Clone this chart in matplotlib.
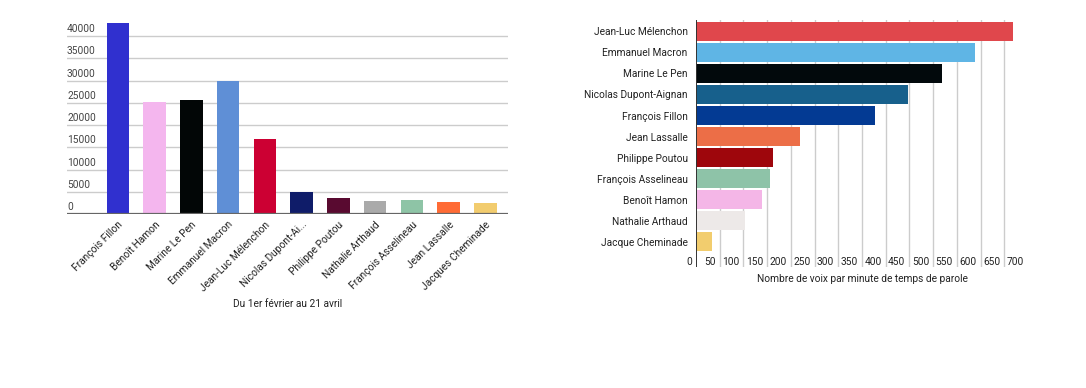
import matplotlib
matplotlib.use("Agg")
import matplotlib.pyplot as plt
import matplotlib.transforms as mtrans

plt.rcParams['font.family'] = ['Roboto', 'DejaVu Sans']

# ---------------- data ----------------
left_names = ["François Fillon", "Benoît Hamon", "Marine Le Pen", "Emmanuel Macron",
              "Jean-Luc Mélenchon", "Nicolas Dupont-Ai...", "Philippe Poutou",
              "Nathalie Arthaud", "François Asselineau", "Jean Lassalle",
              "Jacques Cheminade"]
left_values = [43000, 25200, 25600, 29900, 16850, 4880, 3530, 2990, 3080, 2700, 2540]
left_colors = ["#3030cf", "#f4b6ee", "#020606", "#5f8fd6", "#cc0033", "#0f1c69",
               "#590a30", "#aaaaaa", "#8ec4a6", "#ff6b35", "#f2cc6e"]
left_yticks = [0, 5000, 10000, 15000, 20000, 25000, 30000, 35000, 40000]
left_title = "Du 1er février au 21 avril"

right_names = ["Jean-Luc Mélenchon", "Emmanuel Macron", "Marine Le Pen",
               "Nicolas Dupont-Aignan", "François Fillon", "Jean Lassalle",
               "Philippe Poutou", "François Asselineau", "Benoît Hamon",
               "Nathalie Arthaud", "Jacque Cheminade"]
right_values = [669, 589, 518, 448, 378, 219, 163, 155, 140, 103, 34]
right_colors = ["#e0474c", "#5fb5e5", "#02090c", "#17608c", "#033a93", "#ec6e47",
                "#9e060c", "#8ec3a8", "#f4b6e7", "#ede9e8", "#f2cd6e"]
right_xticks = list(range(0, 701, 50))
right_title = "Nombre de voix par minute de temps de parole"

W, H = 1086, 388
fig = plt.figure(figsize=(W / 100, H / 100), dpi=100)


def px_axes(l, t, r, b):
    return fig.add_axes([l / W, 1 - b / H, (r - l) / W, (b - t) / H])


FS = 7.3
GRID = "#cccccc"

# ---------------- left chart ----------------
axL = px_axes(67, 20, 508, 214)
xs = list(range(len(left_names)))
axL.bar(xs, left_values, width=0.61, color=left_colors, zorder=3)
axL.set_xlim(-1.385, 10.618)
axL.set_ylim(0, 43600)
for v in left_yticks[1:]:
    axL.axhline(v, color=GRID, lw=1.0, zorder=1)
axL.axhline(0, color="#666666", lw=1.6, zorder=4)
for s in axL.spines.values():
    s.set_visible(False)
axL.set_yticks([])
tr = mtrans.blended_transform_factory(axL.transAxes, axL.transData)
off = mtrans.ScaledTranslation(0, 2.0 / 100, fig.dpi_scale_trans)
for v in left_yticks:
    axL.text(0, v, str(v), transform=tr + off, ha="left", va="bottom",
             fontsize=FS, color="#444444")
axL.set_xticks(xs)
axL.set_xticklabels(left_names, rotation=45, ha="right", rotation_mode="anchor",
                    fontsize=FS, color="#222222")
axL.tick_params(axis="x", length=0, pad=4)
axL.set_xlabel(left_title, fontsize=FS, color="#222222", labelpad=4)

# ---------------- right chart ----------------
axR = px_axes(696, 20, 1028, 267)
ys = list(range(len(right_names)))
axR.barh(ys, right_values, height=0.9, color=right_colors, zorder=3)
axR.set_xlim(0, 700)
axR.set_ylim(11.2, -0.54)
for v in right_xticks[1:-1]:
    axR.axvline(v, color=GRID, lw=1.0, zorder=1)
axR.axvline(0, color="#333333", lw=1.4, zorder=4)
for s in axR.spines.values():
    s.set_visible(False)
axR.set_xticks([])
axR.set_yticks(ys)
axR.set_yticklabels(right_names, fontsize=FS, color="#222222")
axR.tick_params(axis="y", length=0, pad=6)
trR = mtrans.blended_transform_factory(axR.transData, axR.transAxes)
offR = mtrans.ScaledTranslation(-4 / 100, 0, fig.dpi_scale_trans)
for v in right_xticks:
    axR.text(v, 5 / 247, str(v), transform=trR + offR, ha="right", va="center",
             fontsize=FS, color="#222222", zorder=5)
axR.text(0.5, -0.029, right_title, transform=axR.transAxes, ha="center", va="top",
         fontsize=FS, color="#222222")

fig.savefig("out.png", dpi=100, facecolor="white")
